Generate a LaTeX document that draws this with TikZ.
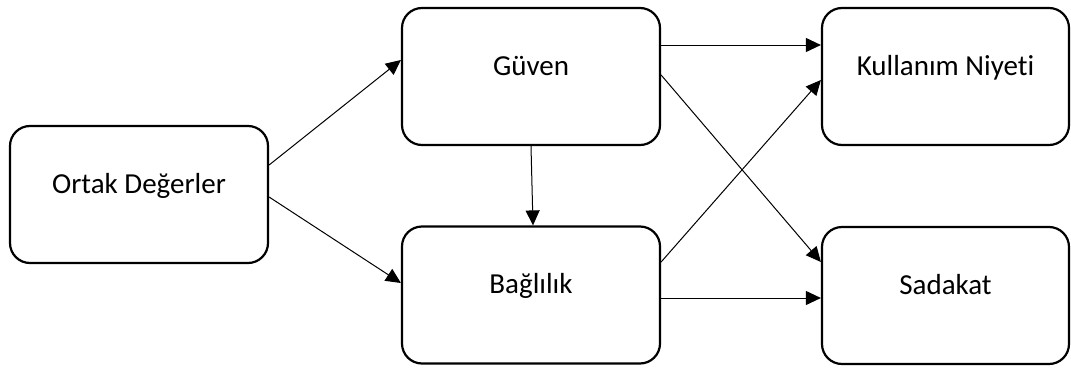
\documentclass[tikz,border=0pt]{standalone}
\usepackage{fontspec}
\setmainfont{Carlito}[Ligatures={NoCommon}]
\usetikzlibrary{arrows.meta}
\begin{document}
\begin{tikzpicture}[x=1pt,y=-1pt,
  box/.style={draw, line width=2.2pt, rounded corners=20pt, inner sep=0pt,
    minimum height=137pt, text height=20pt, text depth=23pt,
    font=\fontsize{29}{35}\selectfont},
  conn/.style={line width=1pt, -{Triangle[length=15pt,width=14pt]}}]
\useasboundingbox (0,0) rectangle (1071,367);
\node[box, minimum width=258pt] (o) at (139,194.5) {Ortak Değerler};
\node[box, minimum width=258pt] (g) at (531,76.5) {Güven};
\node[box, minimum width=258pt] (b) at (531,295) {Bağlılık};
\node[box, minimum width=247pt] (k) at (945.5,76.5) {Kullanım Niyeti};
\node[box, minimum width=247pt] (s) at (945.5,295.5) {Sadakat};
\draw[conn] ([yshift=29.5pt]o.east) -- ([yshift=16.5pt]g.west);
\draw[conn] ([yshift=-2.5pt]o.east) -- ([yshift=12pt]b.west);
\draw[conn] (g.south) -- ([xshift=2pt]b.north);
\draw[conn] ([yshift=31.5pt]g.east) -- ([yshift=31.5pt]k.west);
\draw[conn] ([yshift=1.5pt]g.east) -- ([yshift=33.5pt]s.west);
\draw[conn] ([yshift=33pt]b.east) -- ([yshift=-3.5pt]k.west);
\draw[conn] ([yshift=-3pt]b.east) -- ([yshift=-2.5pt]s.west);
\end{tikzpicture}
\end{document}
